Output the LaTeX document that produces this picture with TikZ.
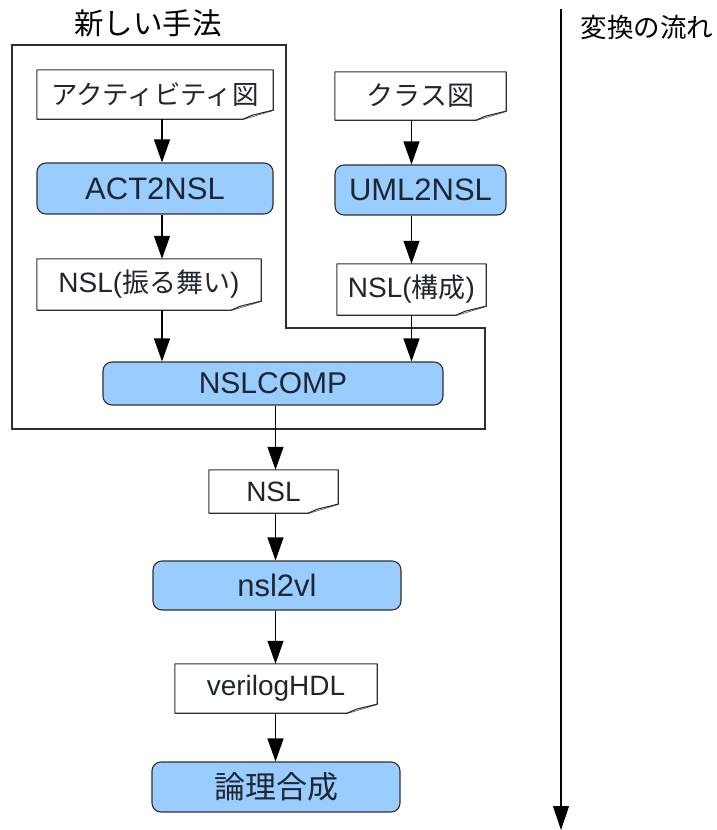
\documentclass[tikz,border=0pt]{standalone}
\usepackage{fontspec}
\setmainfont{Liberation Sans}
\newfontfamily\jp{Noto Sans CJK JP}
\usetikzlibrary{arrows.meta}
\definecolor{procfill}{HTML}{99CCFF}
\definecolor{edgecol}{HTML}{2E2E2E}
\definecolor{txtcol}{HTML}{1E2630}
\begin{document}
\begin{tikzpicture}[x=1pt,y=-1pt,
  docbox/.style={draw=none, inner sep=0pt, text=txtcol,
    font=\fontsize{28}{32}\selectfont},
  procbox/.style={draw=edgecol, line width=1.1pt, fill=procfill, rounded corners=9pt,
    inner sep=0pt, text=txtcol, font=\fontsize{31}{35}\selectfont},
  docline/.style={draw=edgecol, line width=1.1pt, line join=round},
  arr/.style={draw=black, line width=1.1pt, -{Triangle[length=23pt,width=16pt]}},
  region/.style={draw=edgecol, line width=1.1pt}]
\useasboundingbox (0,0) rectangle (717,830);

% region of the new method
\draw[region] (12,45) -- (286,45) -- (286,328) -- (485,328) -- (485,429) -- (12,429) -- cycle;
\node (title) at (148,23) {\jp\fontsize{29.5}{32}\selectfont 新しい手法};
\node (flowlabel) at (647,27) {\jp\fontsize{26.5}{30}\selectfont 変換の流れ};

% document nodes
\node[docbox, minimum width=236pt, minimum height=49pt] (d1) at (155,94.5) {\jp\fontsize{26.5}{30}\selectfont アクティビティ図};
\node[docbox, minimum width=171pt, minimum height=48pt] (d2) at (420.5,96) {\jp\fontsize{27}{30}\selectfont クラス図};
\node[docbox, minimum width=224pt, minimum height=51pt] (d3) at (149,284.5) {NSL({\jp\fontsize{27}{30}\selectfont 振る舞い})};
\node[docbox, minimum width=149pt, minimum height=51pt] (d4) at (411.5,289.5) {NSL({\jp\fontsize{27}{30}\selectfont 構成})};
\node[docbox, minimum width=129pt, minimum height=43pt] (d5) at (273.5,491.5) {NSL};
\node[docbox, minimum width=202pt, minimum height=49pt] (d6) at (276,688.5) {verilogHDL};

\foreach \n in {d1,d2,d3,d4,d5,d6} {
  \draw[docline] (\n.north west) -- (\n.north east) -- ([yshift=9pt]\n.south east)
     -- ([xshift=-30pt]\n.south east) -- (\n.south west) -- cycle;
  \draw[docline, fill=white] ([yshift=9pt]\n.south east) -- ([xshift=-21pt,yshift=4pt]\n.south east)
     -- ([xshift=-30pt]\n.south east);
}

% process nodes
\node[procbox, minimum width=236pt, minimum height=51pt] (p1) at (155,188.5) {ACT2NSL};
\node[procbox, minimum width=171pt, minimum height=50pt] (p2) at (420.5,190) {UML2NSL};
\node[procbox, minimum width=340pt, minimum height=43pt, font=\fontsize{30}{34}\selectfont] (p3) at (273,383.5) {NSLCOMP};
\node[procbox, minimum width=248pt, minimum height=49pt] (p4) at (277,585.5) {nsl2vl};
\node[procbox, minimum width=248pt, minimum height=50pt] (p5) at (276,787) {\jp\fontsize{31}{35}\selectfont 論理合成};

% column x positions
\coordinate (cl) at (162,0);
\coordinate (cr) at (411.5,0);
\coordinate (cm) at (275.5,0);

\draw[arr] (d1.south -| cl) -- (p1.north -| cl);
\draw[arr] (p1.south -| cl) -- (d3.north -| cl);
\draw[arr] (d3.south -| cl) -- (p3.north -| cl);
\draw[arr] (d2.south -| cr) -- (p2.north -| cr);
\draw[arr] (p2.south -| cr) -- (d4.north -| cr);
\draw[arr] (d4.south -| cr) -- (p3.north -| cr);
\draw[arr] (p3.south -| cm) -- (d5.north -| cm);
\draw[arr] (d5.south -| cm) -- (p4.north -| cm);
\draw[arr] (p4.south -| cm) -- (d6.north -| cm);
\draw[arr] (d6.south -| cm) -- (p5.north -| cm);

% flow arrow
\coordinate (flowtop) at (561,9);
\coordinate (flowend) at (561,830);
\draw[arr, -{Triangle[length=24pt,width=16pt]}] (flowtop) -- (flowend);
\end{tikzpicture}
\end{document}
